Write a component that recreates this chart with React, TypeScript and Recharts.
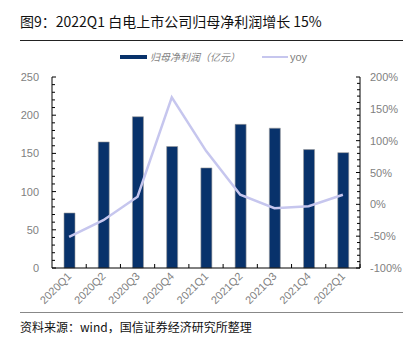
import React from 'react';
import { ComposedChart, Bar, Line, XAxis, YAxis, Legend } from 'recharts';

const quarters = ['2020Q1', '2020Q2', '2020Q3', '2020Q4', '2021Q1', '2021Q2', '2021Q3', '2021Q4', '2022Q1'];
const netProfit = [72, 165, 198, 159, 131, 188, 183, 155, 151];
const yoyPct = [-51, -25, 12, 168, 84, 15, -6, -3, 15];

const leftTicks = Array.from({ length: 26 }, (_, i) => i * 10);
const rightTicks = Array.from({ length: 31 }, (_, i) => -100 + i * 10);

const data = quarters.map((q, i) => ({ q, profit: netProfit[i], yoy: yoyPct[i] }));

const W = 412;
const PLOT_L = 52;
const PLOT_R = 360;
const BAND = (PLOT_R - PLOT_L) / quarters.length;

const BAR_COLOR = '#08326b';
const LINE_COLOR = '#c6c6ee';
const LABEL_COLOR = '#7f7f7f';
const FONT = '"Liberation Sans", Arial, sans-serif';
const CJK = '"Noto Sans CJK SC", sans-serif';

const LeftTick = (props: any) => {
  const { x, y, payload } = props;
  const major = payload.value % 50 === 0;
  return (
    <g>
      <line x1={x} x2={x + (major ? 4 : 3)} y1={y} y2={y} stroke="#000" />
      {major && (
        <text x={x - 13} y={y} dy={4} textAnchor="end" fontSize={11} fill={LABEL_COLOR} fontFamily={FONT}>
          {payload.value}
        </text>
      )}
    </g>
  );
};

const RightTick = (props: any) => {
  const { x, y, payload } = props;
  const major = payload.value % 50 === 0;
  return (
    <g>
      <line x1={x} x2={x - (major ? 4 : 3)} y1={y} y2={y} stroke="#000" />
      {major && (
        <text x={x + 10} y={y} dy={4} textAnchor="start" fontSize={11} fill={LABEL_COLOR} fontFamily={FONT}>
          {payload.value + '%'}
        </text>
      )}
    </g>
  );
};

const BottomTick = (props: any) => {
  const { x, y, payload } = props;
  const bx = x + BAND / 2;
  return (
    <g>
      <line x1={bx} x2={bx} y1={y} y2={y - 4} stroke="#000" />
      <text
        x={x + 3}
        y={y + 9}
        textAnchor="end"
        fontSize={11}
        fill={LABEL_COLOR}
        fontFamily={FONT}
        transform={`rotate(-45 ${x + 3} ${y + 9})`}
      >
        {payload.value}
      </text>
    </g>
  );
};

const LegendBox = () => (
  <div style={{ position: 'relative', width: W, height: 14, fontSize: 10, color: LABEL_COLOR }}>
    <span style={{ position: 'absolute', left: 120, top: 5, width: 27, height: 4, background: BAR_COLOR }} />
    <span style={{ position: 'absolute', left: 150, top: 0, fontFamily: CJK, fontStyle: 'italic', lineHeight: '14px' }}>
      归母净利润（亿元）
    </span>
    <span style={{ position: 'absolute', left: 262, top: 6, width: 26, height: 2, background: LINE_COLOR }} />
    <span style={{ position: 'absolute', left: 290, top: 0, fontFamily: FONT, fontSize: 11, lineHeight: '14px' }}>yoy</span>
  </div>
);

export default function App() {
  return (
    <div style={{ position: 'absolute', left: 0, top: 0, width: W, height: 339, background: '#fff' }}>
      <div style={{ position: 'absolute', left: 20, top: 12, fontSize: 14, fontFamily: CJK, color: '#111', whiteSpace: 'nowrap', lineHeight: '18px' }}>
        图9：2022Q1 白电上市公司归母净利润增长 15%
      </div>
      <div style={{ position: 'absolute', left: 20, top: 40, width: 383, height: 1, background: '#222' }} />
      <div style={{ position: 'absolute', left: 0, top: 0 }}>
        <ComposedChart width={W} height={320} data={data} margin={{ top: 63, right: 8, bottom: 8, left: 8 }}>
          <Legend verticalAlign="top" height={14} wrapperStyle={{ top: 50, left: 0, width: W }} content={() => <LegendBox />} />
          <XAxis
            dataKey="q"
            height={44}
            interval={0}
            tickSize={0}
            tickMargin={0}
            axisLine={{ stroke: '#000' }}
            tickLine={false}
            tick={<BottomTick />}
          />
          <YAxis
            yAxisId="left"
            orientation="left"
            width={44}
            domain={[0, 250]}
            ticks={leftTicks}
            interval={0}
            tickSize={0}
            tickMargin={0}
            axisLine={{ stroke: '#000' }}
            tickLine={false}
            tick={<LeftTick />}
          />
          <YAxis
            yAxisId="right"
            orientation="right"
            width={44}
            domain={[-100, 200]}
            ticks={rightTicks}
            interval={0}
            tickSize={0}
            tickMargin={0}
            axisLine={{ stroke: '#000' }}
            tickLine={false}
            tick={<RightTick />}
          />
          <Bar yAxisId="left" dataKey="profit" fill={BAR_COLOR} stroke="#9a9a9a" strokeWidth={0.6} barSize={11} isAnimationActive={false} />
          <Line yAxisId="right" dataKey="yoy" type="linear" stroke={LINE_COLOR} strokeWidth={2.5} dot={false} isAnimationActive={false} />
        </ComposedChart>
      </div>
      <div style={{ position: 'absolute', left: 20, top: 312, width: 383, height: 1, background: '#888' }} />
      <div style={{ position: 'absolute', left: 20, top: 319, fontSize: 12, fontFamily: CJK, color: '#111', whiteSpace: 'nowrap', lineHeight: '16px' }}>
        资料来源：wind，国信证券经济研究所整理
      </div>
    </div>
  );
}
